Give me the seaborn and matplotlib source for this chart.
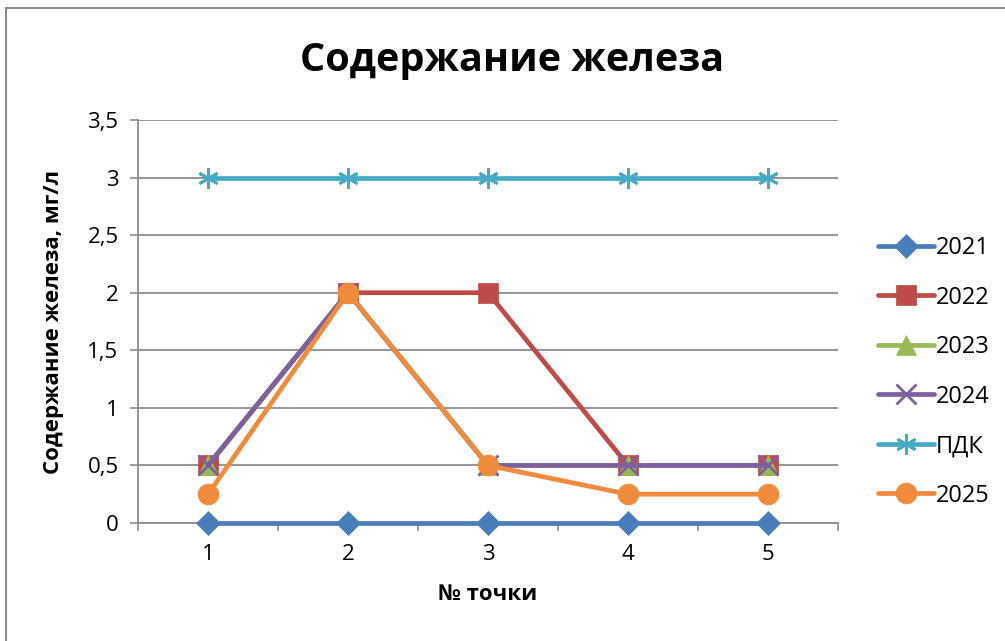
import pandas as pd
import matplotlib.pyplot as plt
import seaborn as sns
from matplotlib.patches import Rectangle

# Data
points = [1, 2, 3, 4, 5]
y2021 = [0, 0, 0, 0, 0]
y2022 = [0.5, 2, 2, 0.5, 0.5]
y2023 = [0.5, 2, 0.5, 0.5, 0.5]
y2024 = [0.5, 2, 0.5, 0.5, 0.5]
pdk = [3, 3, 3, 3, 3]
y2025 = [0.25, 2, 0.5, 0.25, 0.25]

series = ['2021', '2022', '2023', '2024', 'ПДК', '2025']
values = [y2021, y2022, y2023, y2024, pdk, y2025]

colors = ['#4A7EBB', '#BE4B48', '#98B954', '#7D60A0', '#46AAC5', '#F08A3C']
markers = ['D', 's', '^', 'x', (6, 2, 0), 'o']
sizes = [12, 15, 14, 14, 15, 15]

rows = []
for name, vals in zip(series, values):
    for p, v in zip(points, vals):
        rows.append({'point': p, 'value': v, 'series': name})
data = pd.DataFrame(rows)

sns.set_style('white')
plt.rcParams['font.family'] = ['Open Sans', 'DejaVu Sans']
plt.rcParams['text.color'] = 'black'
plt.rcParams['axes.labelcolor'] = 'black'
plt.rcParams['xtick.color'] = 'black'
plt.rcParams['ytick.color'] = 'black'

fig = plt.figure(figsize=(10.05, 6.41), dpi=100)
ax = fig.add_axes([138 / 1005, 118 / 641, 700 / 1005, 403 / 641])

# outer chart frame
fig.patches.append(Rectangle((6 / 1005, -0.01), 1.02, 1 - 8 / 641 + 0.01,
                             transform=fig.transFigure, fill=False,
                             edgecolor='#8c8c8c', linewidth=1.5, zorder=0))

for name, col, mk, ms in zip(series, colors, markers, sizes):
    sub = data[data['series'] == name]
    sns.lineplot(data=sub, x='point', y='value', ax=ax, color=col,
                 marker=mk, markersize=ms, linewidth=3.4,
                 markeredgecolor=col, markeredgewidth=2 if mk in ('x', (6, 2, 0)) else 0.5,
                 label=name, zorder=3, clip_on=False)

ax.set_xlim(0.5, 5.5)
ax.set_ylim(0, 3.5)
ax.set_xticks(points)
ax.set_xticks([0.5, 1.5, 2.5, 3.5, 4.5, 5.5], minor=True)
yt = [0, 0.5, 1, 1.5, 2, 2.5, 3, 3.5]
ax.set_yticks(yt)
ax.set_yticklabels([str(v).replace('.', ',').replace(',0', '') for v in yt], fontsize=16)
ax.set_xticklabels([str(p) for p in points], fontsize=16)
ax.tick_params(axis='x', which='major', bottom=False, length=0, pad=15)
ax.tick_params(axis='x', which='minor', bottom=True, length=6, color='#8c8c8c', width=1.2, direction='out')
ax.tick_params(axis='y', left=True, length=6, color='#8c8c8c', width=1.2, direction='out', pad=8)
ax.grid(axis='y', color='#8c8c8c', linewidth=1.3)
ax.set_axisbelow(True)
for s in ['top', 'right']:
    ax.spines[s].set_visible(False)
for s in ['left', 'bottom']:
    ax.spines[s].set_color('#8c8c8c')
    ax.spines[s].set_linewidth(1.3)

ax.set_xlabel('№ точки', fontsize=16, fontweight='bold', labelpad=14)
ax.set_ylabel('Содержание железа, мг/л', fontsize=16, fontweight='bold', labelpad=17)
fig.text(512 / 1005, 1 - 60 / 641, 'Содержание железа', fontsize=28.5,
         fontweight='bold', ha='center', va='center')

handles, labels = ax.get_legend_handles_labels()
ax.legend(handles, labels, loc='upper left', bbox_to_anchor=(857 / 1005, 1 - 215 / 641),
          bbox_transform=fig.transFigure, frameon=False, fontsize=17,
          handlelength=2.35, handletextpad=0.1, labelspacing=1.08)

fig.savefig('out.png', dpi=100)
